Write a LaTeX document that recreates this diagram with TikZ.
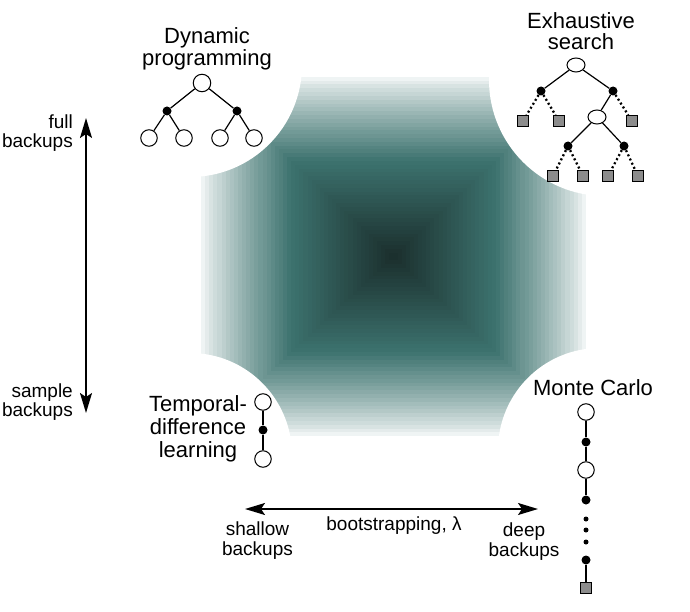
\documentclass[tikz,border=0pt]{standalone}
\usepackage{fontspec}
\setmainfont{Liberation Sans}
\usetikzlibrary{arrows.meta,shapes.geometric}
\definecolor{tealmid}{RGB}{60,114,110}
\definecolor{tealdark}{RGB}{26,45,43}
\definecolor{leafgray}{RGB}{140,140,140}
\begin{document}
\begin{tikzpicture}[x=1pt,y=-1pt,
 opn/.style={circle,draw,fill=white,line width=1pt,minimum size=16.5pt,inner sep=0pt},
 opne/.style={ellipse,draw,fill=white,line width=1pt,minimum width=18pt,minimum height=14pt,inner sep=0pt},
 blk/.style={circle,fill=black,minimum size=9pt,inner sep=0pt},
 sdot/.style={circle,fill=black,minimum size=5pt,inner sep=0pt},
 sq/.style={rectangle,draw,fill=leafgray,line width=0.9pt,minimum size=11pt,inner sep=0pt},
 edg/.style={line width=1.2pt},
 dedg/.style={line width=2.3pt,dash pattern=on 2pt off 2.6pt},
 ttl/.style={anchor=base,inner sep=0pt,font=\fontsize{22}{22}\selectfont},
 lbl/.style={anchor=base,inner sep=0pt,font=\fontsize{19}{19}\selectfont},
 bigarrow/.style={line width=1.8pt,{Stealth[length=20pt,width=12pt,inset=4pt]}-{Stealth[length=20pt,width=12pt,inset=4pt]}}
]
\useasboundingbox (0,0) rectangle (690,612);
% shaded square
\foreach \i in {0,...,47}{
  \pgfmathsetmacro\t{\i/48}
  \pgfmathsetmacro\s{1-\t}
  \pgfmathtruncatemacro\a{min(100,100*(\t/0.47)^0.8)}
  \pgfmathtruncatemacro\b{max(0,(\t-0.47)*190)}
  \colorlet{cc}{tealmid!\a!white}
  \fill[tealdark!\b!cc] ({393.5-196.5*\s},{256.5-183.5*\s}) rectangle ({393.5+196.5*\s},{256.5+183.5*\s});
}
% corner cut-outs
\fill[white] (190,65) circle[radius=112];
\fill[white] (605,80) circle[radius=116];
\fill[white] (190,455) circle[radius=102];
\fill[white] (600,450) circle[radius=102];

% Dynamic programming
\node[ttl] (dpt1) at (207,44) {Dynamic};
\node[ttl] (dpt2) at (207,66) {programming};
\node[opn,minimum size=17.5pt] (dpr) at (202,83) {};
\node[blk] (dpa) at (167,111) {};
\node[blk] (dpb) at (237,111) {};
\node[opn] (dp1) at (149,138) {};
\node[opn] (dp2) at (184,138) {};
\node[opn] (dp3) at (220,138) {};
\node[opn] (dp4) at (254,138) {};
\draw[edg] (dpr) -- (dpa); \draw[edg] (dpr) -- (dpb);
\draw[edg] (dpa) -- (dp1); \draw[edg] (dpa) -- (dp2);
\draw[edg] (dpb) -- (dp3); \draw[edg] (dpb) -- (dp4);

% Exhaustive search
\node[ttl] (est1) at (581,28.5) {Exhaustive};
\node[ttl] (est2) at (581,50) {search};
\node[opne] (esr) at (576,65) {};
\node[blk] (esa) at (541,91) {};
\node[blk] (esb) at (613,91) {};
\node[sq] (ess1) at (523,121) {};
\node[sq] (ess2) at (559,121) {};
\node[sq] (ess3) at (632,121) {};
\node[opne] (eso) at (597,117) {};
\node[blk] (esc) at (568,146) {};
\node[blk] (esd) at (624,146) {};
\node[sq] (ess4) at (553,176) {};
\node[sq] (ess5) at (583,176) {};
\node[sq] (ess6) at (608,176) {};
\node[sq] (ess7) at (638,176) {};
\draw[edg] (esr) -- (esa); \draw[edg] (esr) -- (esb);
\draw[dedg] (esa) -- (ess1); \draw[dedg] (esa) -- (ess2);
\draw[edg] (esb) -- (eso); \draw[dedg] (esb) -- (ess3);
\draw[edg] (eso) -- (esc); \draw[edg] (eso) -- (esd);
\draw[dedg] (esc) -- (ess4); \draw[dedg] (esc) -- (ess5);
\draw[dedg] (esd) -- (ess6); \draw[dedg] (esd) -- (ess7);

% Temporal-difference learning
\node[ttl] (tdt1) at (198,411.5) {Temporal-};
\node[ttl] (tdt2) at (198,434.5) {difference};
\node[ttl] (tdt3) at (198,457) {learning};
\node[opn] (td1) at (263,402) {};
\node[blk] (td2) at (263,430) {};
\node[opn] (td3) at (263,459) {};
\draw[edg] (td1) -- (td2); \draw[edg] (td2) -- (td3);

% Monte Carlo
\node[ttl] (mct) at (593,395) {Monte Carlo};
\node[opn] (mc1) at (586,412) {};
\node[blk] (mc2) at (586,442) {};
\node[opn] (mc3) at (586,470) {};
\node[blk] (mc4) at (586,500) {};
\node[sdot] (mcd1) at (586,519) {};
\node[sdot] (mcd2) at (586,530) {};
\node[sdot] (mcd3) at (586,542) {};
\node[blk] (mc5) at (586,560) {};
\node[sq] (mc6) at (586,588) {};
\draw[edg] (mc1) -- (mc2); \draw[edg] (mc2) -- (mc3); \draw[edg] (mc3) -- (mc4);
\draw[edg] (mc5) -- (mc6);

% vertical axis
\coordinate (vt) at (86,118);
\coordinate (vb) at (86,413);
\draw[bigarrow] (vt) -- (vb);
\node[lbl,anchor=base east] (fl1) at (73,128.5) {full};
\node[lbl,anchor=base east] (fl2) at (73,148) {backups};
\node[lbl,anchor=base east] (sl1) at (73,397) {sample};
\node[lbl,anchor=base east] (sl2) at (73,416.5) {backups};

% horizontal axis
\coordinate (hl) at (245,509);
\coordinate (hr) at (538,509);
\draw[bigarrow] (hl) -- (hr);
\node[lbl] (sh1) at (257.5,535.5) {shallow};
\node[lbl] (sh2) at (257.5,555) {backups};
\node[lbl] (bt) at (394,530.5) {bootstrapping, λ};
\node[lbl] (dp1l) at (524,536.5) {deep};
\node[lbl] (dp2l) at (524,556) {backups};
\end{tikzpicture}
\end{document}
